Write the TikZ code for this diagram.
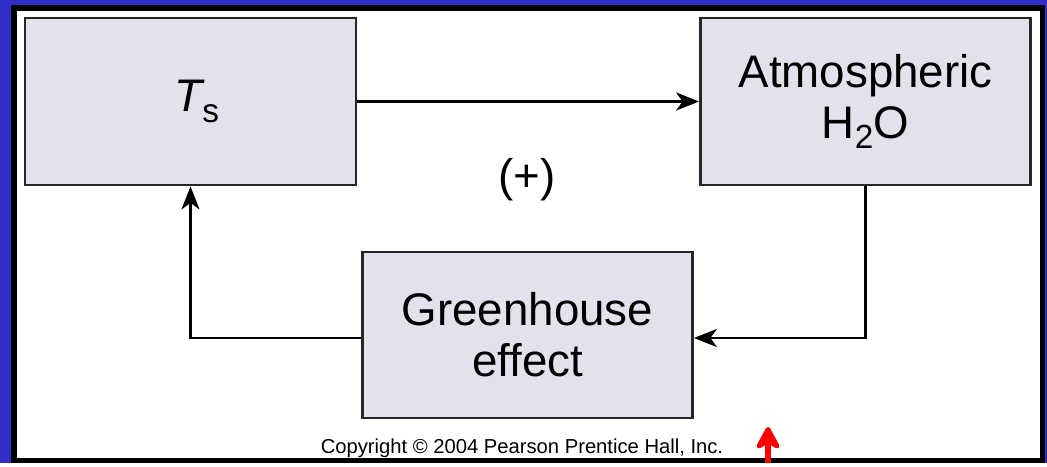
\documentclass[tikz,border=0pt]{standalone}
\usepackage{fontspec}
\setmainfont{Liberation Sans}
\usepackage{tikz}
\usetikzlibrary{arrows.meta}
\definecolor{slideblue}{RGB}{50,45,200}
\definecolor{boxfill}{RGB}{226,226,236}
\tikzset{
  box/.style={draw=black!85, line width=1.6pt, fill=boxfill, minimum width=6.62cm,
    minimum height=3.34cm, align=center, inner sep=0pt,
    font=\fontsize{26}{29}\selectfont},
  feed/.style={line width=1.5pt, -{Stealth[length=0.46cm, width=0.36cm, inset=0.13cm]}}
}

\begin{document}
\begin{tikzpicture}[x=0.02cm, y=-0.02cm]
    \fill[slideblue] (0,0) rectangle (1047,463);
    \fill[black] (11,5) rectangle (1045,463);
    \fill[white] (17,11) rectangle (1040,458);
    \node[box] (ts) at (190.5,101.5) {\hspace*{7pt}\itshape T\upshape\raisebox{-0.24em}{\fontsize{19}{20}\selectfont s}};
    \node[box, minimum width=6.6cm] (atm) at (865.5,101.5) {Atmospheric\\H\raisebox{-0.22em}{\fontsize{19}{20}\selectfont 2}O};
    \node[box, minimum width=6.6cm, minimum height=3.32cm] (gh) at (527.5,335) {Greenhouse\\effect};
    \node[font=\fontsize{26}{29}\selectfont] (sign) at (527,180) {(+)};
    \draw[feed] (ts.east) -- (atm.west);
    \draw[feed] (atm.south) |- ([yshift=-0.06cm]gh.east);
    \draw[feed] ([yshift=-0.06cm]gh.west) -| (ts.south);
    \node[font=\fontsize{11.5}{13}\selectfont, anchor=base] (copy) at (522,453) {Copyright © 2004 Pearson Prentice Hall, Inc.};
    % pointer at the bottom edge
    \coordinate (ptail) at (768,463);
    \coordinate (phead) at (768,427);
    \draw[red, line width=3.6pt, -{Stealth[length=0.56cm, width=0.6cm, inset=0.18cm, round]}] (ptail) -- (phead);
\end{tikzpicture}
\end{document}
